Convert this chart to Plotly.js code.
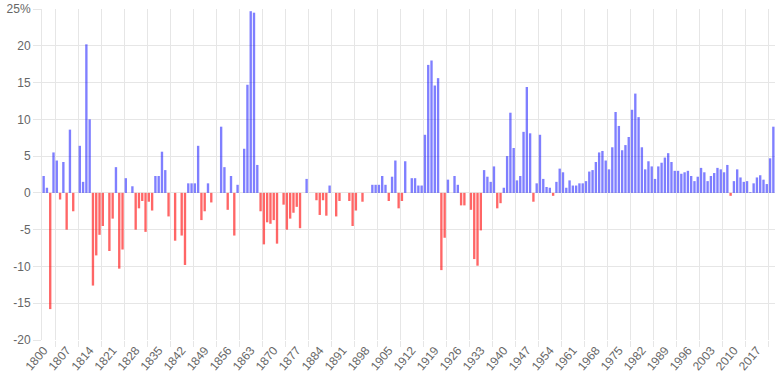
<!DOCTYPE html>
<html>
<head>
<meta charset="utf-8">
<script src="https://cdn.plot.ly/plotly-3.0.1.min.js"></script>
<style>
  html, body { margin: 0; padding: 0; background: #ffffff; }
  #chart { width: 782px; height: 388px; }
</style>
</head>
<body>
<div id="chart"></div>
<script>
// ---- data ----
const firstYear = 1800;
const inflation = [
  // 1800-1809
  2.3, 0.7, -15.8, 5.5, 4.4, -0.9, 4.2, -5.0, 8.6, -2.5,
  // 1810-1819
  0, 6.4, 1.5, 20.2, 10.0, -12.6, -8.5, -5.7, -4.5, 0,
  // 1820-1829
  -7.9, -3.5, 3.5, -10.3, -7.7, 2.0, 0, 0.9, -5.0, -2.1,
  // 1830-1839
  -1.1, -5.3, -1.2, -2.4, 2.3, 2.3, 5.6, 3.1, -3.2, 0,
  // 1840-1849
  -6.5, 0, -5.8, -9.8, 1.3, 1.3, 1.3, 6.4, -3.7, -2.5,
  // 1850-1859
  1.3, -1.3, 0, 0, 9.0, 3.5, -2.3, 2.3, -5.8, 1.1,
  // 1860-1869
  0, 6.0, 14.7, 24.7, 24.5, 3.8, -2.5, -7.0, -4.0, -4.2,
  // 1870-1879
  -3.7, -6.9, 0, -1.6, -5.0, -3.5, -2.7, -1.9, -4.8, 0,
  // 1880-1889
  1.9, 0, 0, -1.0, -3.0, -1.0, -3.1, 1.0, 0, -3.2,
  // 1890-1899
  -1.1, 0, 0, -1.1, -4.5, -2.4, 0, -1.2, 0, 0,
  // 1900-1909
  1.1, 1.1, 1.1, 2.3, 1.1, -1.1, 2.2, 4.4, -2.1, -1.1,
  // 1910-1919
  4.3, 0, 2.0, 2.0, 1.0, 1.0, 7.9, 17.4, 18.0, 14.6,
  // 1920-1929
  15.6, -10.5, -6.1, 1.8, 0, 2.3, 1.1, -1.7, -1.7, 0,
  // 1930-1939
  -2.3, -9.0, -9.9, -5.1, 3.1, 2.2, 1.5, 3.6, -2.1, -1.4,
  // 1940-1949
  0.7, 5.0, 10.9, 6.1, 1.7, 2.3, 8.3, 14.4, 8.1, -1.2,
  // 1950-1959
  1.3, 7.9, 1.9, 0.8, 0.7, -0.4, 1.5, 3.3, 2.8, 0.7,
  // 1960-1969
  1.7, 1.0, 1.0, 1.3, 1.3, 1.6, 2.9, 3.1, 4.2, 5.5,
  // 1970-1979
  5.7, 4.4, 3.2, 6.2, 11.0, 9.1, 5.8, 6.5, 7.6, 11.3,
  // 1980-1989
  13.5, 10.3, 6.2, 3.2, 4.3, 3.6, 1.9, 3.6, 4.1, 4.8,
  // 1990-1999
  5.4, 4.2, 3.0, 3.0, 2.6, 2.8, 3.0, 2.3, 1.6, 2.2,
  // 2000-2009
  3.4, 2.8, 1.6, 2.3, 2.7, 3.4, 3.2, 2.8, 3.8, -0.4,
  // 2010-2019
  1.6, 3.2, 2.1, 1.5, 1.6, 0.1, 1.3, 2.1, 2.4, 1.8,
  // 2020-2022
  1.2, 4.7, 9.0
];
const years = inflation.map((_, i) => firstYear + i);

const xTickYears = [1800, 1807, 1814, 1821, 1828, 1835, 1842, 1849, 1856, 1863,
  1870, 1877, 1884, 1891, 1898, 1905, 1912, 1919, 1926, 1933, 1940, 1947,
  1954, 1961, 1968, 1975, 1982, 1989, 1996, 2003, 2010, 2017];
const yTickValues = [-20, -15, -10, -5, 0, 5, 10, 15, 20, 25];
const yTickLabels = ['-20', '-15', '-10', '-5', '0', '5', '10', '15', '20', '25%'];

// ---- style ----
const posColor = 'rgba(0,0,255,0.5)';
const negColor = 'rgba(255,0,0,0.6)';
const gridColor = '#e6e6e6';
const labelColor = '#666666';
const fontFamily = 'Arial, "Liberation Sans", sans-serif';

const barColors = inflation.map(v => (v < 0 ? negColor : posColor));
// grid lines sit half a label-step to the right of each label (offset grid)
const gridPositions = xTickYears.map(y => y + 3.5);

const trace = {
  type: 'bar',
  x: years,
  y: inflation,
  marker: { color: barColors, line: { width: 0 } },
  hoverinfo: 'skip'
};

const layout = {
  width: 782,
  height: 388,
  margin: { l: 42, r: 7, t: 9, b: 48, pad: 0 },
  paper_bgcolor: '#ffffff',
  plot_bgcolor: '#ffffff',
  showlegend: false,
  bargap: 0.28,
  font: { family: fontFamily, size: 12, color: labelColor },
  xaxis: {
    type: 'linear',
    range: [firstYear - 0.5, years[years.length - 1] + 0.5],
    tickmode: 'array',
    tickvals: xTickYears,
    ticktext: xTickYears.map(String),
    tickangle: -50,
    ticks: '',
    showgrid: false,
    zeroline: false,
    showline: false,
    tickfont: { family: fontFamily, size: 12, color: labelColor },
    minor: {
      tickmode: 'array',
      tickvals: gridPositions,
      showgrid: true,
      gridcolor: gridColor,
      gridwidth: 1,
      ticks: 'outside',
      ticklen: 6,
      tickcolor: gridColor,
      tickwidth: 1
    },
    fixedrange: true
  },
  yaxis: {
    range: [-20, 25],
    tickmode: 'array',
    tickvals: yTickValues,
    ticktext: yTickLabels,
    ticks: 'outside',
    ticklen: 8,
    tickcolor: gridColor,
    showgrid: true,
    gridcolor: gridColor,
    gridwidth: 1,
    zeroline: false,
    showline: true,
    linecolor: gridColor,
    linewidth: 1,
    tickfont: { family: fontFamily, size: 12, color: labelColor },
    fixedrange: true
  }
};

Plotly.newPlot('chart', [trace], layout, { displayModeBar: false, staticPlot: true });
</script>
</body>
</html>
